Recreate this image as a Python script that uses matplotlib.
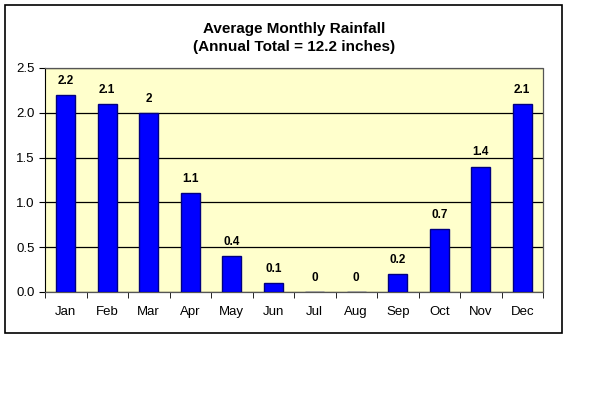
import matplotlib.pyplot as plt
from matplotlib.patches import Rectangle

plt.rcParams['font.family'] = ['Liberation Sans', 'DejaVu Sans']

# monthly rainfall data
months = ["Jan", "Feb", "Mar", "Apr", "May", "Jun",
          "Jul", "Aug", "Sep", "Oct", "Nov", "Dec"]
rainfall = [2.2, 2.1, 2.0, 1.1, 0.4, 0.1, 0.0, 0.0, 0.2, 0.7, 1.4, 2.1]
value_labels = ["2.2", "2.1", "2", "1.1", "0.4", "0.1",
                "0", "0", "0.2", "0.7", "1.4", "2.1"]
y_ticks = [0.0, 0.5, 1.0, 1.5, 2.0, 2.5]

fig = plt.figure(figsize=(6, 3.96), dpi=100)
W, H = 600, 396

# outer chart border
fig.patches.append(Rectangle((5 / W, 1 - 333 / H), (562 - 5) / W, (333 - 5) / H,
                             transform=fig.transFigure, fill=False,
                             edgecolor='black', linewidth=1.2))

ax = fig.add_axes([45 / W, 1 - 292 / H, (543 - 45) / W, (292 - 68) / H])
ax.set_facecolor('#FFFFCC')

x = list(range(len(months)))
ax.bar(x, rainfall, width=0.46, color='#0000FF', edgecolor='#000080',
       linewidth=1.0, zorder=3)

for i in range(len(months)):
    ax.text(x[i], rainfall[i] + 0.09, value_labels[i], ha='center', va='bottom',
            fontsize=8.5, fontweight='bold')

ax.set_xlim(-0.5, 11.5)
ax.set_ylim(0, 2.5)
ax.set_yticks(y_ticks)
ax.set_yticklabels([f"{v:.1f}" for v in y_ticks], fontsize=9.5)
ax.yaxis.grid(True, color='black', linewidth=0.9, zorder=1)
ax.set_axisbelow(True)

# month labels centered, ticks between categories
ax.set_xticks(x)
ax.set_xticklabels(months, fontsize=9.5)
ax.tick_params(axis='x', length=0, pad=10)
ax.set_xticks([i + 0.5 for i in range(-1, 12)], minor=True)
ax.tick_params(axis='x', which='minor', length=4, direction='out')
ax.tick_params(axis='y', length=4, direction='out')

for side in ['top', 'right', 'bottom']:
    ax.spines[side].set_color('#555555')
    ax.spines[side].set_linestyle((0, (2, 1)))
    ax.spines[side].set_linewidth(0.9)
ax.spines['left'].set_color('black')

fig.text(0.5 * (45 + 543) / W, 1 - 38 / H,
         "Average Monthly Rainfall\n(Annual Total = 12.2 inches)",
         ha='center', va='center', fontsize=11, fontweight='bold', linespacing=1.3)

fig.savefig("out.png", dpi=100)
